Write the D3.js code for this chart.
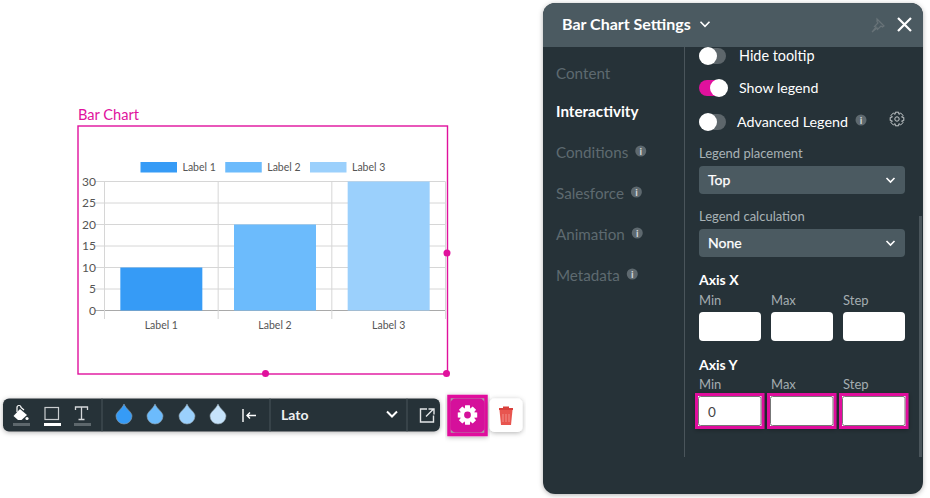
<!DOCTYPE html>
<html>
<head>
<meta charset="utf-8">
<title>Bar Chart Settings</title>
<script src="https://d3js.org/d3.v7.min.js"></script>
<style>
    html, body { margin: 0; padding: 0; background: #fff; overflow: hidden; }
    text { font-family: Lato, sans-serif; }
</style>
</head>
<body>
<svg id="page" width="930" height="498"></svg>
<script>
// chart data
var categories = ['Label 1', 'Label 2', 'Label 3'];
var seriesValues = [10, 20, 30];
var yTicks = [0, 5, 10, 15, 20, 25, 30];
var barColors = ['#369bf6', '#6cbbfc', '#9bd0fc'];

// settings panel contents
var sideItems = ['Content', 'Interactivity', 'Conditions', 'Salesforce', 'Animation', 'Metadata'];
var sideInfo = [false, false, true, true, true, true];
var axisFields = ['Min', 'Max', 'Step'];
var axisYValues = ['0', '', ''];

var MAGENTA = '#e0119d';
var DARK = '#283339';
var HEADER = '#4b5a61';

var svg = d3.select('#page');
var defs = svg.append('defs');
var shadow = defs.append('filter').attr('id', 'shadow')
    .attr('x', '-10%').attr('y', '-20%').attr('width', '120%').attr('height', '140%');
shadow.append('feDropShadow').attr('dx', 0).attr('dy', 1).attr('stdDeviation', 2.5)
    .attr('flood-color', '#000').attr('flood-opacity', 0.3);

function label(parent, x, y, str, size, color, weight, anchor) {
    return parent.append('text')
        .attr('x', x).attr('y', y)
        .attr('font-size', size)
        .attr('fill', color)
        .attr('font-weight', weight || 400)
        .attr('text-anchor', anchor || 'start')
        .text(str);
}

function chevron(parent, x, y, w, color, sw) {
    parent.append('path')
        .attr('d', 'M' + (x - w) + ',' + (y - w / 2) + 'L' + x + ',' + (y + w / 2) + 'L' + (x + w) + ',' + (y - w / 2))
        .attr('fill', 'none').attr('stroke', color).attr('stroke-width', sw || 2);
}

function gearPath(cx, cy, r) {
    var pts = [];
    for (var i = 0; i < 8; i++) {
        var a = i * Math.PI / 4;
        var w = 0.24;
        [[r * 0.72, a - 0.38], [r, a - w], [r, a + w], [r * 0.72, a + 0.38]].forEach(function (p) {
            pts.push((cx + p[0] * Math.cos(p[1])) + ',' + (cy + p[0] * Math.sin(p[1])));
        });
    }
    return 'M' + pts.join('L') + 'Z';
}

function drop(parent, cx, cy, color) {
    parent.append('path')
        .attr('d', 'M' + cx + ',' + (cy - 10) + 'C' + (cx + 2) + ',' + (cy - 5) + ' ' + (cx + 8) + ',' + (cy - 2) + ' ' + (cx + 8) + ',' + (cy + 2)
            + 'A8,8 0 0 1 ' + (cx - 8) + ',' + (cy + 2) + 'C' + (cx - 8) + ',' + (cy - 2) + ' ' + (cx - 2) + ',' + (cy - 5) + ' ' + cx + ',' + (cy - 10) + 'Z')
        .attr('fill', color).attr('stroke', '#8fa0aa').attr('stroke-width', 0.6);
}

function infoDot(parent, cx, cy) {
    parent.append('circle').attr('cx', cx).attr('cy', cy).attr('r', 5.5).attr('fill', '#5e696f');
    label(parent, cx, cy + 3.5, 'i', 10, '#d5d9db', 700, 'middle');
}

// ---- chart ----
var chart = svg.append('g');
label(chart, 78, 120, 'Bar Chart', 14.6, MAGENTA);
chart.append('rect').attr('x', 78).attr('y', 126).attr('width', 369.5).attr('height', 248)
    .attr('fill', '#fff').attr('stroke', MAGENTA).attr('stroke-width', 1.4);

var x = d3.scaleBand().domain(categories).range([104.5, 445.5]);
var y = d3.scaleLinear().domain([0, 30]).range([310.5, 181.5]);
var barWidth = 82;

// grid
chart.append('g').selectAll('line').data(yTicks).join('line')
    .attr('x1', 95).attr('x2', 445.5)
    .attr('y1', function (d) { return y(d); })
    .attr('y2', function (d) { return y(d); })
    .attr('stroke', function (d) { return d === 0 ? '#a9a9a9' : '#d6d6d6'; });
var xLines = categories.map(function (c) { return x(c); }).concat([x.range()[1]]);
chart.append('g').selectAll('line').data(xLines).join('line')
    .attr('x1', function (d) { return d; })
    .attr('x2', function (d) { return d; })
    .attr('y1', 181.5).attr('y2', 319)
    .attr('stroke', '#d6d6d6');

// bars
chart.append('g').selectAll('rect').data(seriesValues).join('rect')
    .attr('x', function (d, i) { return x(categories[i]) + (x.bandwidth() - barWidth) / 2; })
    .attr('width', barWidth)
    .attr('y', function (d) { return y(d); })
    .attr('height', function (d) { return y(0) - y(d); })
    .attr('fill', function (d, i) { return barColors[i]; });

// y tick labels
chart.append('g').selectAll('text').data(yTicks).join('text')
    .attr('x', 96).attr('text-anchor', 'end')
    .attr('y', function (d) { return y(d) + 4; })
    .attr('font-size', 12).attr('fill', '#555')
    .text(function (d) { return d; });

// x tick labels
chart.append('g').selectAll('text').data(categories).join('text')
    .attr('x', function (d) { return x(d) + x.bandwidth() / 2; })
    .attr('y', 329).attr('text-anchor', 'middle')
    .attr('font-size', 10.5).attr('fill', '#555')
    .text(function (d) { return d; });

// legend
var legendX = d3.scalePoint().domain(categories).range([140.5, 310]);
categories.forEach(function (c, i) {
    chart.append('rect').attr('x', legendX(c)).attr('y', 162).attr('width', 36.5).attr('height', 10.5).attr('fill', barColors[i]);
    label(chart, legendX(c) + 42, 171, c, 10.5, '#555');
});

// handles
[[447, 253], [265.5, 373.5], [446.5, 373.5]].forEach(function (p) {
    chart.append('circle').attr('cx', p[0]).attr('cy', p[1]).attr('r', 3.5).attr('fill', MAGENTA);
});

// ---- toolbar ----
var bar = svg.append('g');
bar.append('rect').attr('x', 3).attr('y', 398.5).attr('width', 437).attr('height', 33).attr('rx', 6)
    .attr('fill', DARK).attr('filter', 'url(#shadow)');
[102, 270, 407].forEach(function (sx) {
    bar.append('line').attr('x1', sx).attr('x2', sx).attr('y1', 398.5).attr('y2', 431.5).attr('stroke', '#48545a');
});
// fill bucket
bar.append('path').attr('d', 'M20,409L27,415L21.5,420H18L13.5,416Z').attr('fill', '#fff');
bar.append('path').attr('d', 'M17,412V407.5A2,2 0 0 1 21,407.5L24,410').attr('fill', 'none').attr('stroke', '#fff').attr('stroke-width', 1.2);
bar.append('circle').attr('cx', 27).attr('cy', 418.5).attr('r', 1.6).attr('fill', '#fff');
bar.append('rect').attr('x', 13).attr('y', 423).attr('width', 17).attr('height', 3).attr('fill', '#5d676c');
// border
bar.append('rect').attr('x', 45).attr('y', 407.5).attr('width', 13.5).attr('height', 12).attr('fill', 'none').attr('stroke', '#c9cdcf').attr('stroke-width', 1.2);
bar.append('rect').attr('x', 44).attr('y', 423).attr('width', 17).attr('height', 3).attr('fill', '#fff');
// text
bar.append('path').attr('d', 'M75.5,410V407H87.5V410M81.5,407V419.5M78.5,419.5H84.5')
    .attr('fill', 'none').attr('stroke', '#d5d8da').attr('stroke-width', 1.3);
bar.append('rect').attr('x', 74).attr('y', 423).attr('width', 17).attr('height', 3).attr('fill', '#5d676c');

barColors.concat(['#c6e3fb']).forEach(function (c, i) {
    drop(bar, [124, 155, 187, 218][i], 414, c);
});
bar.append('path').attr('d', 'M243,409V422M256,415.5H247M250,412.5L247,415.5L250,418.5')
    .attr('fill', 'none').attr('stroke', '#fff').attr('stroke-width', 1.4);
label(bar, 281, 420, 'Lato', 14, '#eef0f1', 700);
chevron(bar, 392, 414, 5, '#fff', 2);
bar.append('path').attr('d', 'M427,409H420.5V422H433.5V415.5M426,416.5L433,409.5M428.5,409H434V414.5')
    .attr('fill', 'none').attr('stroke', '#e4e6e7').attr('stroke-width', 1.4);

// gear button
svg.append('rect').attr('x', 449).attr('y', 396.5).attr('width', 37).attr('height', 38)
    .attr('fill', '#a9a0a6').attr('stroke', MAGENTA).attr('stroke-width', 3.5).attr('filter', 'url(#shadow)');
svg.append('rect').attr('x', 450.5).attr('y', 398.5).attr('width', 34).attr('height', 34).attr('rx', 5)
    .attr('fill', '#d5109b');
svg.append('path').attr('d', gearPath(467.5, 415, 10)).attr('fill', '#fff');
svg.append('circle').attr('cx', 467.5).attr('cy', 415).attr('r', 3.4).attr('fill', '#d5109b');

// trash button
svg.append('rect').attr('x', 489.5).attr('y', 398.5).attr('width', 33).attr('height', 33.5).attr('rx', 5)
    .attr('fill', '#fff').attr('filter', 'url(#shadow)');
svg.append('path').attr('d', 'M499.5,410H512.5L511,425H501Z').attr('fill', '#e8554f');
svg.append('rect').attr('x', 499).attr('y', 408).attr('width', 14).attr('height', 2).attr('fill', '#d9403c');
svg.append('rect').attr('x', 503).attr('y', 406.5).attr('width', 6).attr('height', 1.5).attr('fill', '#d9403c');
svg.append('path').attr('d', 'M503,414V422M506,414V422M509,414V422')
    .attr('fill', 'none').attr('stroke', '#f2908b').attr('stroke-width', 1);

// ---- settings panel ----
var panel = svg.append('g');
panel.append('rect').attr('x', 543).attr('y', 3).attr('width', 380).attr('height', 491).attr('rx', 12)
    .attr('fill', DARK).attr('filter', 'url(#shadow)');
panel.append('path').attr('d', 'M543,47V15A12,12 0 0 1 555,3H911A12,12 0 0 1 923,15V47Z').attr('fill', HEADER);
label(panel, 562, 30, 'Bar Chart Settings', 16, '#fff', 700);
chevron(panel, 705, 24, 4.5, '#fff', 1.6);
// pin
panel.append('path').attr('d', 'M877,19L884,26L882.5,27L881,26L877.5,29.5L877,28L872,32L876,27L874.5,26.5L878,23L877,21.5Z')
    .attr('fill', 'none').attr('stroke', '#687378').attr('stroke-width', 1.2);
panel.append('path').attr('d', 'M898,18L911,31M911,18L898,31')
    .attr('fill', 'none').attr('stroke', '#fff').attr('stroke-width', 2.2);
panel.append('line').attr('x1', 684.5).attr('x2', 684.5).attr('y1', 47).attr('y2', 457).attr('stroke', '#4a555b');
panel.append('rect').attr('x', 919).attr('y', 216).attr('width', 3).attr('height', 241).attr('fill', '#4a555b');

// side menu
sideItems.forEach(function (s, i) {
    var sy = [79, 117, 158, 199, 240, 281][i];
    var active = s === 'Interactivity';
    var t = label(panel, 556, sy, s, 15.2, active ? '#fff' : '#5e6a70', active ? 700 : 400);
    if (sideInfo[i]) {
        infoDot(panel, 556 + t.node().getComputedTextLength() + 12.5, sy - 7);
    }
});

// toggles
function toggle(ty, on) {
    panel.append('rect').attr('x', 699).attr('y', ty - 8).attr('width', 27).attr('height', 16).attr('rx', 8)
        .attr('fill', on ? MAGENTA : '#5d666b');
    panel.append('circle').attr('cx', on ? 719 : 708).attr('cy', ty).attr('r', 9).attr('fill', '#fff');
}
toggle(56, false);
label(panel, 739, 61, 'Hide tooltip', 14.4, '#fff');
toggle(88, true);
label(panel, 739, 93, 'Show legend', 14.2, '#fff');
toggle(122, false);
label(panel, 737, 127, 'Advanced Legend', 14.3, '#fff');
infoDot(panel, 861, 120);
panel.append('path').attr('d', gearPath(897, 119, 7)).attr('fill', 'none').attr('stroke', '#c5cacc').attr('stroke-width', 1);
panel.append('circle').attr('cx', 897).attr('cy', 119).attr('r', 2.2).attr('fill', 'none').attr('stroke', '#c5cacc');

// selects
function select(labelText, ly, value) {
    label(panel, 699, ly, labelText, 13, '#a9b2b6');
    panel.append('rect').attr('x', 699).attr('y', ly + 8).attr('width', 206).attr('height', 28).attr('rx', 4).attr('fill', HEADER);
    label(panel, 708, ly + 27, value, 14, '#fff', 400).attr('stroke', '#fff').attr('stroke-width', 0.25);
    chevron(panel, 890.5, ly + 22, 4, '#fff', 1.6);
}
select('Legend placement', 158, 'Top');
select('Legend calculation', 221, 'None');

// axis inputs
var fieldX = d3.scalePoint().domain(axisFields).range([699, 843]);
function axisGroup(title, ty, values, highlight) {
    label(panel, 699, ty, title, 14, '#fff', 700);
    axisFields.forEach(function (f, i) {
        label(panel, fieldX(f), ty + (highlight ? 19 : 20), f, 13, '#a4adb1');
        var g = panel.append('g');
        if (highlight) {
            g.append('rect').attr('x', fieldX(f) - 2.5).attr('y', ty + 24.5).attr('width', 66.5).attr('height', 33)
                .attr('fill', '#fff').attr('stroke', MAGENTA).attr('stroke-width', 3).attr('filter', 'url(#shadow)');
            g.append('rect').attr('x', fieldX(f) - 0.5).attr('y', ty + 26.5).attr('width', 62.5).attr('height', 29).attr('rx', 2)
                .attr('fill', 'none').attr('stroke', '#777').attr('stroke-width', 1);
        } else {
            g.append('rect').attr('x', fieldX(f)).attr('y', ty + 27).attr('width', 62).attr('height', 29).attr('rx', 4).attr('fill', '#fff');
        }
        if (values && values[i]) {
            label(g, fieldX(f) + 9, ty + 47, values[i], 13.5, '#444');
        }
    });
}
axisGroup('Axis X', 285, null, false);
axisGroup('Axis Y', 370, axisYValues, true);
</script>
</body>
</html>
